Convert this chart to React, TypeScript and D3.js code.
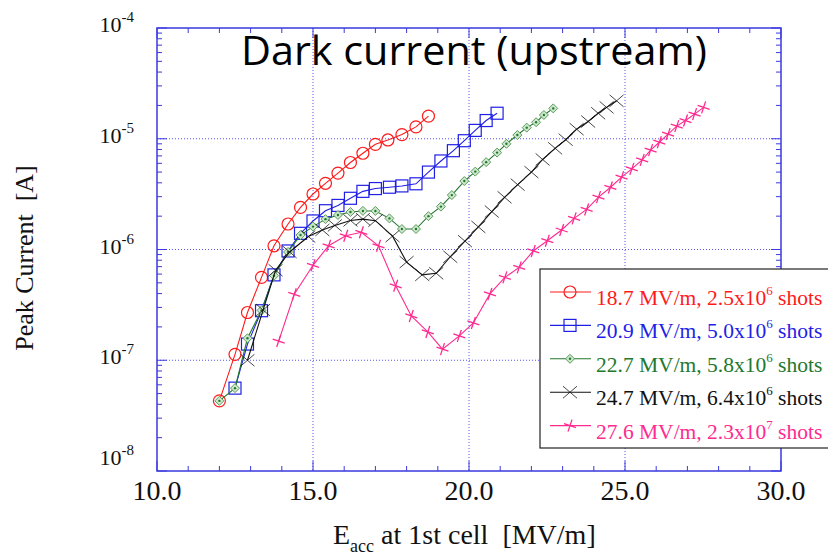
import React from 'react';
import * as d3 from 'd3';

// Eacc [MV/m] and peak dark current [A] per processing stage
const redX = [12.0, 12.5, 12.9, 13.35, 13.75, 14.2, 14.6, 15.0, 15.4, 15.8, 16.2, 16.6, 17.0, 17.4, 17.85, 18.3, 18.7];
const redY = [4.3e-8, 1.13e-7, 2.7e-7, 5.6e-7, 1.08e-6, 1.7e-6, 2.4e-6, 3.17e-6, 3.96e-6, 4.9e-6, 6.1e-6, 7.4e-6, 8.9e-6, 9.75e-6, 1.09e-5, 1.28e-5, 1.6e-5];

const blueX = [12.5, 12.9, 13.35, 13.75, 14.2, 14.6, 15.0, 15.4, 15.8, 16.2, 16.6, 17.0, 17.45, 17.85, 18.3, 18.7, 19.1, 19.5, 19.85, 20.2, 20.55, 20.9];
const blueY = [5.6e-8, 1.4e-7, 2.8e-7, 5.9e-7, 9.7e-7, 1.4e-6, 1.81e-6, 2.24e-6, 2.5e-6, 2.9e-6, 3.35e-6, 3.55e-6, 3.65e-6, 3.75e-6, 3.92e-6, 5.0e-6, 6.3e-6, 7.8e-6, 9.6e-6, 1.19e-5, 1.46e-5, 1.7e-5];

const greenX = [12.0, 12.5, 12.9, 13.35, 13.75, 14.2, 14.6, 15.0, 15.4, 15.8, 16.2, 16.6, 17.0, 17.45, 17.85, 18.3, 18.7, 19.1, 19.45, 19.85, 20.2, 20.55, 20.9, 21.2, 21.55, 21.85, 22.15, 22.4, 22.7];
const greenY = [4.3e-8, 5.6e-8, 1.58e-7, 2.82e-7, 5.8e-7, 9.5e-7, 1.35e-6, 1.61e-6, 1.88e-6, 2.05e-6, 2.18e-6, 2.23e-6, 2.23e-6, 1.91e-6, 1.53e-6, 1.53e-6, 2.0e-6, 2.44e-6, 3.1e-6, 4.15e-6, 5.05e-6, 6.15e-6, 7.5e-6, 9.0e-6, 1.08e-5, 1.26e-5, 1.41e-5, 1.64e-5, 1.88e-5];

const blackX = [12.9, 13.4, 13.8, 14.25, 14.85, 15.3, 15.7, 16.2, 16.6, 17.0, 17.55, 18.0, 18.5, 18.95, 19.4, 19.87, 20.3, 20.73, 21.14, 21.56, 22.0, 22.36, 22.76, 23.1, 23.45, 23.82, 24.14, 24.41, 24.73];
const blackY = [1.0e-7, 2.84e-7, 6.5e-7, 9.5e-7, 1.31e-6, 1.5e-6, 1.65e-6, 1.83e-6, 1.88e-6, 1.82e-6, 1.32e-6, 7.7e-7, 5.9e-7, 6.1e-7, 8.6e-7, 1.19e-6, 1.6e-6, 2.2e-6, 2.96e-6, 3.85e-6, 5.0e-6, 6.5e-6, 8.2e-6, 9.8e-6, 1.22e-5, 1.43e-5, 1.7e-5, 1.92e-5, 2.2e-5];

const pinkX = [13.9, 14.4, 15.0, 15.5, 16.05, 16.55, 17.1, 17.65, 18.15, 18.68, 19.15, 19.69, 20.14, 20.67, 21.15, 21.61, 22.06, 22.51, 22.97, 23.37, 23.77, 24.15, 24.53, 24.89, 25.22, 25.55, 25.82, 26.1, 26.38, 26.66, 26.94, 27.23, 27.52];
const pinkY = [1.49e-7, 3.94e-7, 7.2e-7, 1.08e-6, 1.33e-6, 1.43e-6, 1.08e-6, 4.7e-7, 2.51e-7, 1.8e-7, 1.26e-7, 1.66e-7, 2.17e-7, 3.97e-7, 5.6e-7, 6.9e-7, 9.7e-7, 1.2e-6, 1.5e-6, 1.91e-6, 2.3e-6, 2.97e-6, 3.63e-6, 4.5e-6, 5.35e-6, 6.45e-6, 7.9e-6, 9.3e-6, 1.1e-5, 1.3e-5, 1.46e-5, 1.67e-5, 1.92e-5];

const legendMain = ['18.7 MV/m, 2.5x10', '20.9 MV/m, 5.0x10', '22.7 MV/m, 5.8x10', '24.7 MV/m, 6.4x10', '27.6 MV/m, 2.3x10'];
const legendExp = ['6', '6', '6', '6', '7'];
const xTicks = [10, 15, 20, 25, 30];
const yExps = [-4, -5, -6, -7, -8];

const series = [
  { xs: redX, ys: redY, color: '#ff1a1a', marker: 'circle' },
  { xs: blueX, ys: blueY, color: '#1f1fe6', marker: 'square' },
  { xs: greenX, ys: greenY, color: '#23782e', marker: 'diamond' },
  { xs: blackX, ys: blackY, color: '#111111', marker: 'cross' },
  { xs: pinkX, ys: pinkY, color: '#ff2a8f', marker: 'plus' },
];

const L = 157, R = 781, T = 28, B = 471;
const axisColor = '#3a3ae0';
const serif = 'Liberation Serif, Times New Roman, serif';

const x = d3.scaleLinear().domain([10, 30]).range([L, R]);
const y = d3.scaleLog().domain([1e-8, 1e-4]).range([B, T]);

function Marker({ type, cx, cy, color }: { type: string; cx: number; cy: number; color: string }) {
  if (type === 'circle') return <circle cx={cx} cy={cy} r={6} fill="none" stroke={color} strokeWidth={1.2} />;
  if (type === 'square') return <rect x={cx - 6} y={cy - 6} width={12} height={12} fill="none" stroke={color} strokeWidth={1.2} />;
  if (type === 'diamond')
    return (
      <g>
        <path d={`M${cx},${cy - 4.5}L${cx + 4.5},${cy}L${cx},${cy + 4.5}L${cx - 4.5},${cy}Z`} fill="#cde6cd" stroke="#5a9e5a" strokeWidth={1} />
        <circle cx={cx} cy={cy} r={1.2} fill={color} />
      </g>
    );
  if (type === 'cross')
    return <path d={`M${cx - 7},${cy - 6}L${cx + 7},${cy + 6}M${cx - 7},${cy + 6}L${cx + 7},${cy - 6}`} stroke={color} strokeWidth={0.9} opacity={0.85} />;
  return <path d={`M${cx - 6},${cy - 2}L${cx + 6},${cy + 2}M${cx - 2},${cy + 6}L${cx + 2},${cy - 6}`} stroke={color} strokeWidth={1.3} />;
}

export default function App() {
  const line = d3.line<[number, number]>().x(d => x(d[0])).y(d => y(d[1]));
  const minorX = d3.range(10, 30.01, 1).filter(v => v % 5 !== 0);
  const minorY: number[] = [];
  for (let e = -8; e < -4; e++) for (let k = 2; k <= 9; k++) minorY.push(k * Math.pow(10, e));

  return (
    <svg width={828} height={559} style={{ position: 'absolute', left: 0, top: 0, background: '#fff' }}>
      <rect width={828} height={559} fill="#fff" />
      {/* grid */}
      {xTicks.slice(1, 4).map(v => (
        <line key={'gx' + v} x1={x(v)} x2={x(v)} y1={T} y2={B} stroke="#5555ee" strokeWidth={1} strokeDasharray="1,2" />
      ))}
      {yExps.slice(1, 4).map(e => (
        <line key={'gy' + e} x1={L} x2={R} y1={y(Math.pow(10, e))} y2={y(Math.pow(10, e))} stroke="#5555ee" strokeWidth={1} strokeDasharray="1,2" />
      ))}
      {/* frame & ticks */}
      <rect x={L} y={T} width={R - L} height={B - T} fill="none" stroke={axisColor} strokeWidth={1.5} />
      {xTicks.map(v => (
        <g key={'tx' + v}>
          <line x1={x(v)} x2={x(v)} y1={B} y2={B - 10} stroke={axisColor} />
          <line x1={x(v)} x2={x(v)} y1={T} y2={T + 10} stroke={axisColor} />
        </g>
      ))}
      {minorX.map(v => (
        <g key={'mx' + v}>
          <line x1={x(v)} x2={x(v)} y1={B} y2={B - 5} stroke={axisColor} />
          <line x1={x(v)} x2={x(v)} y1={T} y2={T + 5} stroke={axisColor} />
        </g>
      ))}
      {yExps.map(e => (
        <g key={'ty' + e}>
          <line x1={L} x2={L + 10} y1={y(Math.pow(10, e))} y2={y(Math.pow(10, e))} stroke={axisColor} />
          <line x1={R} x2={R - 10} y1={y(Math.pow(10, e))} y2={y(Math.pow(10, e))} stroke={axisColor} />
        </g>
      ))}
      {minorY.map(v => (
        <g key={'my' + v}>
          <line x1={L} x2={L + 5} y1={y(v)} y2={y(v)} stroke={axisColor} />
          <line x1={R} x2={R - 5} y1={y(v)} y2={y(v)} stroke={axisColor} />
        </g>
      ))}
      {/* tick labels */}
      {xTicks.map(v => (
        <text key={'lx' + v} x={x(v)} y={500} textAnchor="middle" fontFamily={serif} fontSize={28} fill="#111">
          {v.toFixed(1)}
        </text>
      ))}
      {yExps.map(e => (
        <text key={'ly' + e} x={134} y={y(Math.pow(10, e)) + (e === -8 ? -6 : 4)} textAnchor="end" fontFamily={serif} fontSize={22} fill="#111">
          <tspan>10</tspan>
          <tspan dy={-10} fontSize={15}>{String(e)}</tspan>
        </text>
      ))}
      {/* axis titles */}
      <text transform="translate(33,258) rotate(-90)" textAnchor="middle" fontFamily={serif} fontSize={26} fill="#111" style={{ whiteSpace: 'pre' }}>
        Peak Current  [A]
      </text>
      <text x={333} y={544} fontFamily={serif} fontSize={28} fill="#111" style={{ whiteSpace: 'pre' }}>
        <tspan>E</tspan>
        <tspan dy={8} fontSize={18}>acc</tspan>
        <tspan dy={-8}> at 1st cell  [MV/m]</tspan>
      </text>
      {/* series */}
      {series.map((s, i) => {
        const pts = s.xs.map((v, j) => [v, s.ys[j]] as [number, number]);
        return (
          <g key={'s' + i}>
            <path d={line(pts) || ''} fill="none" stroke={s.color} strokeWidth={1.1} />
            {pts.map((p, j) => (
              <Marker key={j} type={s.marker} cx={x(p[0])} cy={y(p[1])} color={s.color} />
            ))}
          </g>
        );
      })}
      {/* title */}
      <text x={474} y={65} textAnchor="middle" fontFamily="Open Sans, Noto Sans, sans-serif" fontSize={41} fill="#000" textLength={466} lengthAdjust="spacingAndGlyphs">
        Dark current (upstream)
      </text>
      {/* legend */}
      <rect x={540} y={269} width={300} height={179} fill="#fff" stroke="#222" strokeWidth={1.2} />
      {series.map((s, i) => {
        const ly = 292 + i * 33.4;
        return (
          <g key={'lg' + i}>
            <line x1={550} x2={591} y1={ly} y2={ly} stroke={s.color} strokeWidth={1.1} />
            <Marker type={s.marker} cx={570} cy={ly} color={s.color} />
            <text x={596} y={ly + 13} fontFamily={serif} fontSize={21.5} fill={s.color}>
              <tspan>{legendMain[i]}</tspan>
              <tspan dy={-10} fontSize={13}>{legendExp[i]}</tspan>
              <tspan dy={10}> shots</tspan>
            </text>
          </g>
        );
      })}
    </svg>
  );
}
